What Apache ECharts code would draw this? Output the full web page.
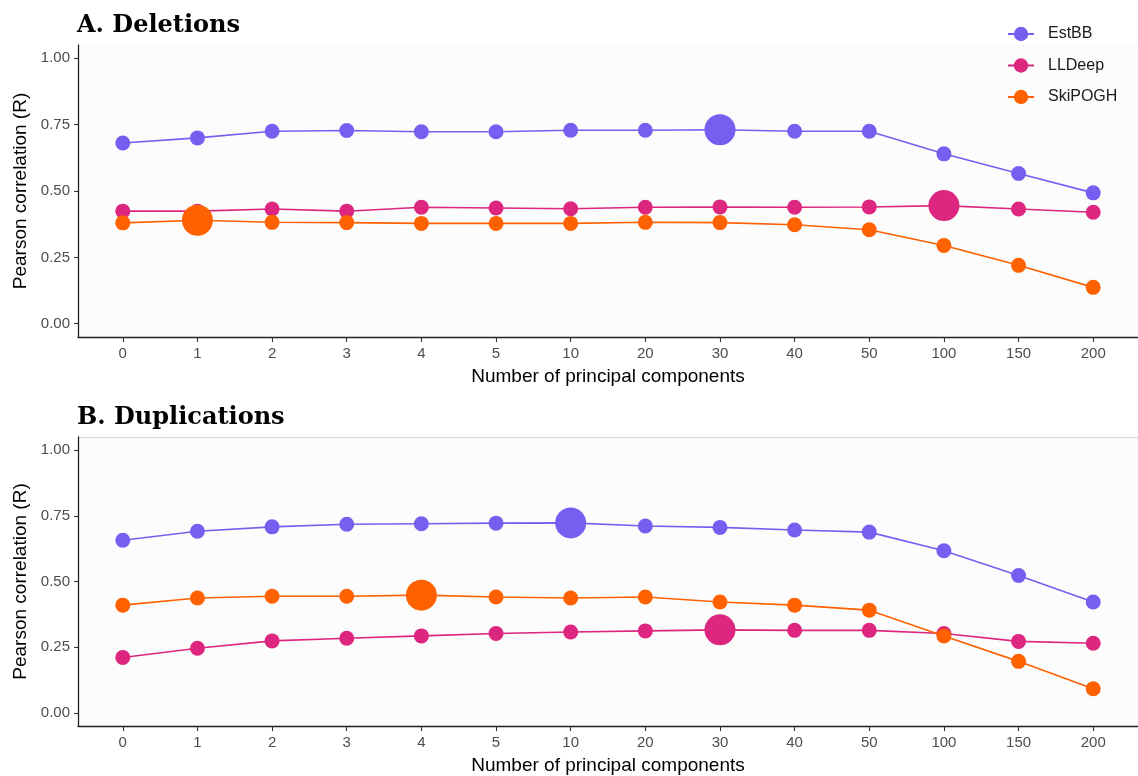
<!DOCTYPE html>
<html>
<head>
<meta charset="utf-8">
<script src="https://cdn.jsdelivr.net/npm/echarts@6/dist/echarts.min.js"></script>
<style>
html,body{margin:0;padding:0;background:#fff;}
#chart{width:1138px;height:776px;}
</style>
</head>
<body>
<div id="chart"></div>
<script>
const categories = ['0','1','2','3','4','5','10','20','30','40','50','100','150','200'];
const yTicks = [0, 0.25, 0.5, 0.75, 1];
const seriesNames = ['EstBB', 'LLDeep', 'SkiPOGH'];

// A. Deletions
const delEstBB   = [0.681,0.700,0.725,0.728,0.723,0.723,0.729,0.729,0.731,0.725,0.725,0.640,0.566,0.493];
const delLLDeep  = [0.424,0.424,0.432,0.424,0.439,0.436,0.433,0.439,0.440,0.439,0.440,0.445,0.432,0.420];
const delSkiPOGH = [0.380,0.390,0.382,0.381,0.378,0.378,0.378,0.382,0.381,0.373,0.354,0.295,0.220,0.137];
const delBest = ['30','100','1'];

// B. Duplications
const dupEstBB   = [0.657,0.691,0.708,0.718,0.720,0.722,0.723,0.711,0.706,0.696,0.688,0.617,0.523,0.422];
const dupLLDeep  = [0.211,0.246,0.274,0.284,0.293,0.302,0.308,0.312,0.316,0.314,0.314,0.302,0.272,0.265];
const dupSkiPOGH = [0.410,0.437,0.444,0.444,0.448,0.441,0.437,0.441,0.422,0.410,0.391,0.293,0.196,0.092];
const dupBest = ['10','30','4'];

const colors = ['#785EF0', '#DC267F', '#FE6100'];
const panelTitles = ['A. Deletions', 'B. Duplications'];
const xTitle = 'Number of principal components';
const yTitle = 'Pearson correlation (R)';

const panels = [
  { data: [delEstBB, delLLDeep, delSkiPOGH], best: delBest, top: 45 },
  { data: [dupEstBB, dupLLDeep, dupSkiPOGH], best: dupBest, top: 437 }
];

const chart = echarts.init(document.getElementById('chart'), null, {renderer: 'canvas'});

const grids = [], xAxes = [], yAxes = [], series = [], titles = [];
const catIdx = categories.map((c, i) => i);

panels.forEach((p, pi) => {
  grids.push({ left: 78, top: p.top, width: 1068, height: 292, show: true,
    backgroundColor: '#fcfcfc', borderWidth: 0, containLabel: false });
  titles.push({ text: panelTitles[pi], left: 72, top: p.top - 31, padding: [0, 5],
    textStyle: { fontFamily: 'DejaVu Serif', fontWeight: 'bold', fontSize: 24, color: '#000' } });
  xAxes.push({
    type: 'value', gridIndex: pi, min: -0.6, max: 13.6,
    name: xTitle, nameLocation: 'middle', nameGap: 30,
    nameTextStyle: { fontFamily: 'Liberation Sans', fontSize: 19, color: '#000' },
    axisLine: { show: true, onZero: false, lineStyle: { color: '#222', width: 1.3 } },
    axisTick: { show: true, length: 5, customValues: catIdx, lineStyle: { color: '#333', width: 1.1 } },
    axisLabel: { customValues: catIdx, margin: 9, fontFamily: 'Liberation Sans', fontSize: 15, color: '#4d4d4d',
      formatter: v => categories[Math.round(v)] },
    splitLine: { show: false }
  });
  yAxes.push({
    type: 'value', gridIndex: pi, min: -0.05, max: 1.05,
    name: yTitle, nameLocation: 'middle', nameGap: 47, nameRotate: 90,
    nameTextStyle: { fontFamily: 'Liberation Sans', fontSize: 19, color: '#000' },
    axisLine: { show: true, onZero: false, lineStyle: { color: '#222', width: 1.3 } },
    axisTick: { show: true, length: 4, customValues: yTicks, lineStyle: { color: '#333', width: 1.1 } },
    axisLabel: { customValues: yTicks, margin: 8, fontFamily: 'Liberation Sans', fontSize: 15, color: '#4d4d4d',
      formatter: v => v.toFixed(2) },
    splitLine: { show: false }
  });
  p.data.forEach((vals, si) => {
    const best = p.best[si];
    series.push({
      name: seriesNames[si], type: 'line', xAxisIndex: pi, yAxisIndex: pi,
      data: vals.map((v, i) => [i, v]),
      symbol: 'circle',
      symbolSize: (val, params) => categories[params.dataIndex] === best ? 31 : 15,
      showSymbol: true,
      lineStyle: { color: colors[si], width: 1.6 },
      itemStyle: { color: colors[si] },
      emphasis: { disabled: true },
      z: 2 + si
    });
  });
});

chart.setOption({
  animation: false,
  backgroundColor: '#ffffff',
  title: titles,
  grid: grids,
  xAxis: xAxes,
  yAxis: yAxes,
  legend: {
    data: seriesNames, orient: 'vertical', left: 1002, top: 21,
    itemWidth: 26, itemHeight: 18, itemGap: 15.5,
    textStyle: { fontFamily: 'Liberation Sans', fontSize: 16, color: '#1a1a1a', padding: [0, 0, 0, 9] }
  },
  graphic: [{
    type: 'line', shape: { x1: 78, y1: 437.5, x2: 1138, y2: 437.5 },
    style: { stroke: '#d9d9d9', lineWidth: 1 }, silent: true
  }],
  series: series
});
</script>
</body>
</html>
